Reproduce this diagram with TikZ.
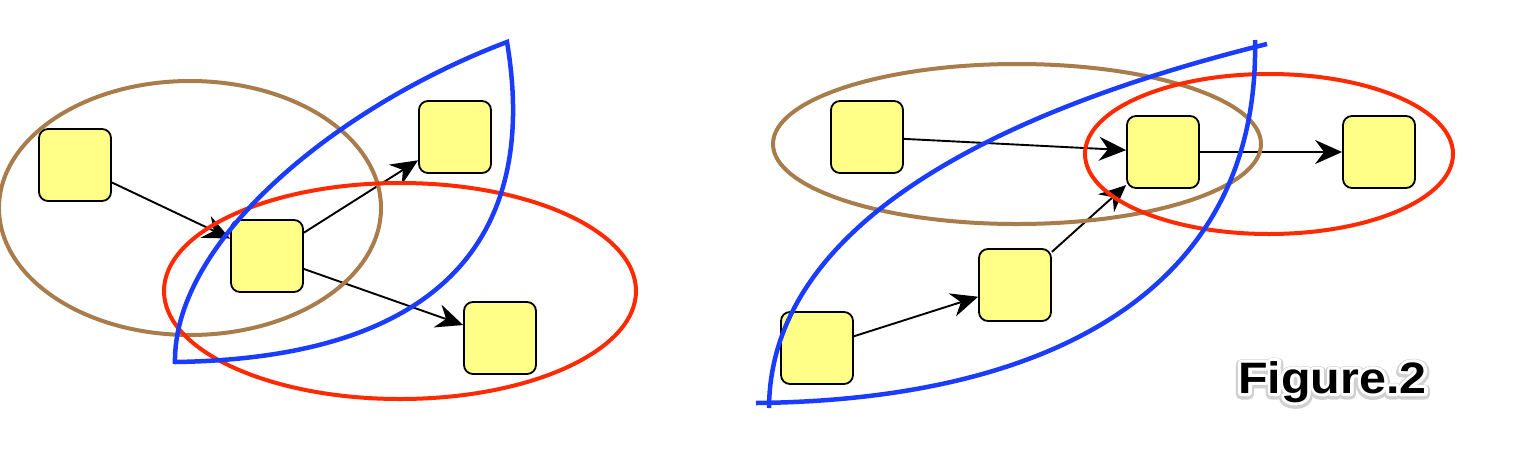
\documentclass[tikz,border=0pt]{standalone}
\usepackage{fontspec}
\setmainfont{Liberation Sans}
\usetikzlibrary{arrows.meta}
\definecolor{boxfill}{HTML}{FFFF88}
\definecolor{brownc}{HTML}{A97C4C}
\definecolor{redc}{HTML}{FF2A00}
\definecolor{bluec}{HTML}{1A3CFF}
\newcommand{\haloText}[3]{\special{pdf:literal direct 2 Tr #1 w 1 j #2 RG #2 rg}#3\special{pdf:literal direct 0 Tr}}
\tikzset{
  box/.style={draw=black, line width=1.8pt, fill=boxfill, rounded corners=9pt,
    minimum width=72pt, minimum height=72pt, inner sep=0pt},
  link/.style={draw=black, line width=1.9pt,
    -{Stealth[length=27pt, width=24pt, inset=9pt]}},
  brownring/.style={draw=brownc, line width=4pt},
  redring/.style={draw=redc, line width=4pt},
  leaf/.style={draw=bluec, line width=4.5pt},
  figlabel/.style={font=\fontsize{44}{44}\selectfont\bfseries, inner sep=0pt, xscale=1.1, anchor=base west}
}
\begin{document}
\begin{tikzpicture}[x=1pt, y=-1pt]
\useasboundingbox[fill=white] (0,0) rectangle (1524,456);
% left figure nodes
\node[box] (A) at (75,165) {};
\node[box] (B) at (267,256) {};
\node[box] (C) at (455,137) {};
\node[box] (D) at (500,338) {};
\draw[link] (A) -- (B);
\draw[link] (B) -- (C);
\draw[link] (B) -- (D);
% right figure nodes
\node[box] (E) at (867,137) {};
\node[box] (F) at (1163,152) {};
\node[box] (G) at (1379,152) {};
\node[box] (H) at (1015,285) {};
\node[box] (I) at (817,348) {};
\draw[link] (E) -- (F);
\draw[link] (F) -- (G);
\draw[link] (I) -- (H);
\draw[link] (H) -- (F);
% left rings
\draw[brownring] (190,208) ellipse [x radius=191pt, y radius=127pt];
\draw[redring] (400,291) ellipse [x radius=236pt, y radius=108pt];
\draw[leaf] (175,364) .. controls (172,240) and (340,105) .. (507,42)
  .. controls (537,220) and (460,358) .. (175,362);
% right rings
\draw[brownring] (1017,144) ellipse [x radius=244pt, y radius=80pt];
\draw[redring] (1269,154) ellipse [x radius=184pt, y radius=80pt];
\draw[leaf] (769,408) .. controls (770,240) and (960,120) .. (1267,44);
\draw[leaf] (756,403) .. controls (1050,400) and (1260,290) .. (1255,40);
% label with halo
\node[figlabel] (lblshadow) at (1238,394.5) {\haloText{10}{0.82 0.82 0.82}{Figure.2}};
\node[figlabel] (lblhalo) at (1238,393) {\haloText{6}{1 1 1}{Figure.2}};
\node[figlabel, text=black] (lbl) at (1238,393) {Figure.2};
\end{tikzpicture}
\end{document}
